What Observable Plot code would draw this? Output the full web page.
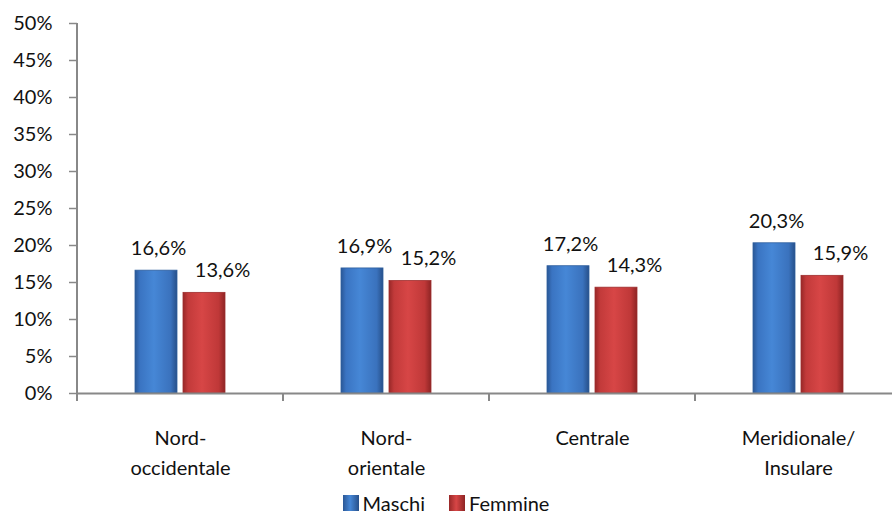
<!DOCTYPE html>
<html>
<head>
<meta charset="utf-8">
<script src="https://cdn.jsdelivr.net/npm/d3@7"></script>
<script src="https://cdn.jsdelivr.net/npm/@observablehq/plot@0.6"></script>
<style>
  html, body { margin: 0; padding: 0; background: #fff; }
  #wrap { width: 892px; font-family: Lato, "Open Sans", sans-serif; }
  #chart { width: 892px; height: 490px; overflow: hidden; }
  #chart svg { overflow: hidden; display: block; max-width: none !important; }
  #legend { width: 892px; height: 22px; margin-top: 2px; display: flex; justify-content: center; align-items: center; font-size: 20px; line-height: 22px; color: #111; }
  .li { display: flex; align-items: center; margin: 0 12px; }
  .sw { width: 16px; height: 16px; margin-right: 4px; }
</style>
</head>
<body>
<div id="wrap">
  <div id="chart"></div>
  <div id="legend"></div>
</div>
<script>
const regions = ["Nord-\noccidentale", "Nord-\norientale", "Centrale", "Meridionale/\nInsulare"];
const series = ["Maschi", "Femmine"];
const maschi = [16.6, 16.9, 17.2, 20.3];
const femmine = [13.6, 15.2, 14.3, 15.9];
const yTicks = [0, 5, 10, 15, 20, 25, 30, 35, 40, 45, 50];

const dataM = regions.map((r, i) => ({region: r, sex: "Maschi", value: maschi[i]}));
const dataF = regions.map((r, i) => ({region: r, sex: "Femmine", value: femmine[i]}));
const data = dataM.concat(dataF);
const fmt = v => v.toFixed(1).replace(".", ",") + "%";

const plot = Plot.plot({
  width: 901,
  height: 490,
  marginLeft: 77,
  marginRight: 0,
  marginTop: 23,
  marginBottom: 97,
  style: {fontFamily: "Lato, 'Open Sans', sans-serif", fontSize: "20px", color: "#111", background: "transparent", maxWidth: "none"},
  fx: {domain: regions, padding: 0, label: null, axis: null},
  x: {domain: series, paddingInner: 0.125, paddingOuter: 1.2, axis: null},
  y: {domain: [0, 50], label: null, axis: null},
  color: {domain: series, range: ["url(#gBlue)", "url(#gRed)"]},
  marks: [
    Plot.axisY({ticks: yTicks, tickFormat: d => d + "%", tickSize: 8, tickPadding: 17, stroke: "#888", strokeWidth: 1.5, fill: "#111", fontSize: 20, label: null}),
    Plot.axisFx({anchor: "bottom", tickSize: 0, tickPadding: 30, fontSize: 20, lineHeight: 1.5, fill: "#111", label: null}),
    Plot.barY(data, {fx: "region", x: "sex", y: "value", fill: "sex", stroke: d => d.sex === "Maschi" ? "#2f5f9e" : "#9e2e2e", strokeWidth: 0.8}),
    Plot.ruleY([0], {stroke: "#888", strokeWidth: 2}),
    Plot.text(dataM, {fx: "region", x: "sex", y: "value", text: d => fmt(d.value), lineAnchor: "middle", dy: -22, dx: 2, fontSize: 20, fill: "#111"}),
    Plot.text(dataF, {fx: "region", x: "sex", y: "value", text: d => fmt(d.value), lineAnchor: "middle", dy: -22, dx: 18, fontSize: 20, fill: "#111"})
  ]
});

// gradients for glossy bars
const svg = d3.select(plot);
const defs = svg.insert("defs", ":first-child");
function grad(id, stops) {
  const g = defs.append("linearGradient").attr("id", id).attr("x1", "0").attr("x2", "1").attr("y1", "0").attr("y2", "0");
  stops.forEach(([o, c]) => g.append("stop").attr("offset", o).attr("stop-color", c));
}
grad("gBlue", [[0, "#2a5796"], [0.12, "#3a74c2"], [0.45, "#4687d6"], [0.85, "#3a72bd"], [1, "#27508a"]]);
grad("gRed", [[0, "#982828"], [0.12, "#c23a3a"], [0.45, "#d74646"], [0.85, "#bf3838"], [1, "#8e2424"]]);

// y axis line and group boundary ticks from the plot's scales
const ys = plot.scale("y");
const fxs = plot.scale("fx");
const yScale = d3.scaleLinear(ys.domain, ys.range);
const band = d3.scaleBand(fxs.domain, fxs.range).padding(0);
const x0 = fxs.range[0];
const g = svg.append("g").attr("stroke", "#888").attr("stroke-width", 2);
g.append("line").attr("x1", x0).attr("x2", x0).attr("y1", yScale(50)).attr("y2", yScale(0) + 8);
fxs.domain.slice(1).forEach(d => {
  const xb = band(d);
  g.append("line").attr("x1", xb).attr("x2", xb).attr("y1", yScale(0)).attr("y2", yScale(0) + 8);
});
g.append("line").attr("x1", fxs.range[1]).attr("x2", fxs.range[1]).attr("y1", yScale(0)).attr("y2", yScale(0) + 8);

document.getElementById("chart").appendChild(plot);

// legend
const colors = {Maschi: "linear-gradient(90deg,#2a5796,#4687d6 45%,#27508a)", Femmine: "linear-gradient(90deg,#982828,#d74646 45%,#8e2424)"};
const leg = d3.select("#legend");
series.forEach(s => {
  const it = leg.append("div").attr("class", "li");
  it.append("div").attr("class", "sw").style("background", colors[s]);
  it.append("span").text(s);
});
</script>
</body>
</html>
